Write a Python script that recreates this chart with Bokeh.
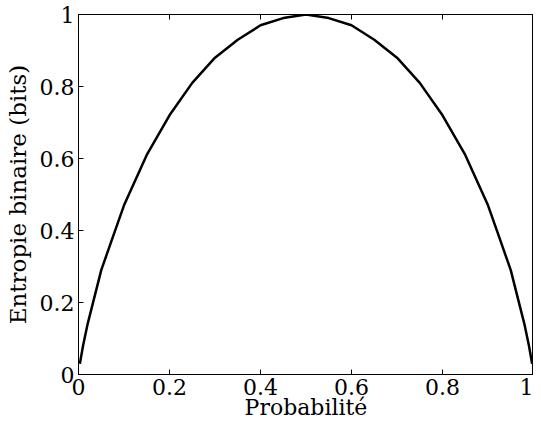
from bokeh.plotting import figure
from bokeh.models import LinearAxis, FixedTicker, Range1d
from bokeh.embed import file_html
from bokeh.resources import INLINE

# Data
prob = [0.003, 0.01, 0.02, 0.03, 0.05, 0.075, 0.1, 0.15, 0.2, 0.25, 0.3, 0.35, 0.4, 0.45, 0.5,
        0.55, 0.6, 0.65, 0.7, 0.75, 0.8, 0.85, 0.9, 0.925, 0.95, 0.97, 0.98, 0.99, 0.997]
entropy = [0.03, 0.08, 0.14, 0.19, 0.29, 0.38, 0.47, 0.61, 0.72, 0.81, 0.88, 0.93, 0.97, 0.99, 1.0,
           0.99, 0.97, 0.93, 0.88, 0.81, 0.72, 0.61, 0.47, 0.38, 0.29, 0.19, 0.14, 0.08, 0.03]
ticks = [0, 0.2, 0.4, 0.6, 0.8, 1]
tick_labels = ["0", "0.2", "0.4", "0.6", "0.8", "1"]

FONT = "DejaVu Serif"

p = figure(width=533, height=422, output_backend="svg", toolbar_location=None,
           x_range=Range1d(0, 1), y_range=Range1d(0, 1),
           min_border_left=78, min_border_top=14, min_border_right=0, min_border_bottom=46,
           x_axis_label="Probabilité", y_axis_label="Entropie binaire (bits)")
p.grid.visible = False
p.outline_line_color = "black"
p.outline_line_width = 1

overrides = {t: l for t, l in zip(ticks, tick_labels)}
for ax in (p.xaxis[0], p.yaxis[0]):
    ax.ticker = FixedTicker(ticks=ticks)
    ax.major_label_overrides = overrides
    ax.major_tick_in = 5
    ax.major_tick_out = 0
    ax.minor_tick_in = 0
    ax.minor_tick_out = 0
    ax.axis_line_color = "black"
    ax.major_tick_line_color = "black"
    ax.major_label_text_font = FONT
    ax.major_label_text_font_size = "22px"
    ax.major_label_text_color = "black"
    ax.axis_label_text_font = FONT
    ax.axis_label_text_font_style = "normal"
    ax.axis_label_text_color = "black"

p.xaxis[0].axis_label_text_font_size = "22px"
p.yaxis[0].axis_label_text_font_size = "23px"
p.xaxis[0].major_label_standoff = 4
p.xaxis[0].axis_label_standoff = -3
p.yaxis[0].major_label_standoff = 4
p.yaxis[0].axis_label_standoff = 6

top = LinearAxis(ticker=FixedTicker(ticks=ticks), major_tick_in=5, major_tick_out=0,
                 minor_tick_in=0, minor_tick_out=0, major_label_text_font_size="1px",
                 major_label_text_color=None, major_label_standoff=0, axis_line_color="black")
p.add_layout(top, "above")

p.line(prob, entropy, line_color="black", line_width=2.5)

open("out.html", "w").write(file_html(p, INLINE))
